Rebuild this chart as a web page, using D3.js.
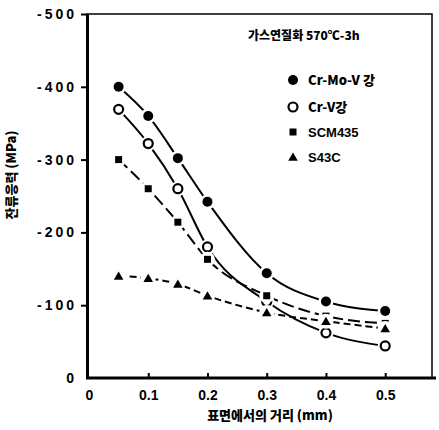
<!DOCTYPE html>
<html>
<head>
<meta charset="utf-8">
<script src="https://cdn.jsdelivr.net/npm/d3@7"></script>
<style>
  body { margin: 0; background: #fff; }
  svg { display: block; }
  text { font-family: "Liberation Sans", Arial, "Noto Sans CJK KR", sans-serif; font-weight: bold; fill: #000; }
  .kr { font-family: "Noto Sans CJK KR", sans-serif; font-weight: 900; }
</style>
</head>
<body>
<script>
// depth from surface (mm)
const depths = [0.05, 0.1, 0.15, 0.2, 0.3, 0.4, 0.5];
// residual stress (MPa)
const crMoV = [-400, -360, -302, -242, -144, -105, -92];
const crV = [-369, -322, -260, -180, -105, -62, -44];
const scm435 = [-300, -260, -214, -163, -113, -85, -75];
const s43c = [-140, -137, -129, -113, -90, -78, -68];

const seriesNames = ['Cr-Mo-V 강', 'Cr-V강', 'SCM435', 'S43C'];
const xTicks = [0, 0.1, 0.2, 0.3, 0.4, 0.5];
const yTicks = [0, -100, -200, -300, -400, -500];

const width = 439;
const height = 430;

const svg = d3.select('body').append('svg')
  .attr('width', width)
  .attr('height', height);

const x = d3.scaleLinear().domain([0, 0.579]).range([89, 432]);
const y = d3.scaleLinear().domain([0, -500]).range([378, 14]);

const series = [
  { name: seriesNames[0], values: crMoV, marker: 'dot', dash: null },
  { name: seriesNames[1], values: crV, marker: 'ring', dash: null },
  { name: seriesNames[2], values: scm435, marker: 'square', dash: '12,5' },
  { name: seriesNames[3], values: s43c, marker: 'tri', dash: '7,4' }
];

// frame
svg.append('rect')
  .attr('x', x(0) - 2)
  .attr('y', y(-500))
  .attr('width', x(0.579) - x(0) + 2)
  .attr('height', y(0) - y(-500))
  .attr('fill', 'none')
  .attr('stroke', '#000')
  .attr('stroke-width', 1.5);

// axes
const xAxis = d3.axisBottom(x)
  .tickValues(xTicks)
  .tickSizeInner(-5)
  .tickSizeOuter(0)
  .tickFormat((d) => d === 0 ? '0' : d3.format('.1f')(d));

const gx = svg.append('g')
  .attr('transform', `translate(0,${y(0)})`)
  .call(xAxis);
gx.select('.domain').attr('stroke-width', 3).attr('d', `M${x(0) - 3},0H${x(0.579) + 4}`);
gx.selectAll('.tick line').attr('stroke-width', 2);
gx.selectAll('.tick').filter((d) => d === 0).select('line').remove();
gx.selectAll('.tick text')
  .attr('y', 12)
  .attr('font-size', 14)
  .style('font-weight', 'bold');

const yAxis = d3.axisLeft(y)
  .tickValues(yTicks)
  .tickSizeInner(6)
  .tickSizeOuter(0)
  .tickPadding(4)
  .tickFormat((d) => String(d));

const gy = svg.append('g')
  .attr('transform', `translate(${x(0) - 2},0)`)
  .call(yAxis);
gy.select('.domain').attr('stroke-width', 3);
gy.selectAll('.tick line').attr('stroke-width', 2);
gy.selectAll('.tick').filter((d) => d === 0).select('line').remove();
gy.selectAll('.tick text')
  .attr('font-size', 14)
  .attr('letter-spacing', 3)
  .style('font-weight', 'bold');
gy.selectAll('text').attr('fill', '#000');
gx.selectAll('text').attr('fill', '#000');

// axis titles
svg.append('text')
  .attr('class', 'kr')
  .attr('x', 270)
  .attr('y', 420)
  .attr('text-anchor', 'middle')
  .attr('font-size', 13)
  .text('표면에서의 거리 (mm)');

svg.append('text')
  .attr('class', 'kr')
  .attr('transform', 'translate(16,175) rotate(-90)')
  .attr('text-anchor', 'middle')
  .attr('font-size', 13)
  .text('잔류응력 (MPa)');

// lines
const line = d3.line()
  .x((d) => x(d[0]))
  .y((d) => y(d[1]))
  .curve(d3.curveMonotoneX);

series.forEach((s) => {
  svg.append('path')
    .datum(depths.map((d, i) => [d, s.values[i]]))
    .attr('d', line)
    .attr('fill', 'none')
    .attr('stroke', '#000')
    .attr('stroke-width', 2)
    .attr('stroke-dasharray', s.dash);
});

function drawMarker(g, type, cx, cy, halo) {
  if (halo) {
    g.append('circle').attr('cx', cx).attr('cy', cy).attr('r', 7.5).attr('fill', '#fff');
  }
  if (type === 'dot') {
    g.append('circle').attr('cx', cx).attr('cy', cy).attr('r', 5).attr('fill', '#000');
  } else if (type === 'ring') {
    g.append('circle').attr('cx', cx).attr('cy', cy).attr('r', 4.5)
      .attr('fill', '#fff').attr('stroke', '#000').attr('stroke-width', 2.2);
  } else if (type === 'square') {
    g.append('rect').attr('x', cx - 3.5).attr('y', cy - 3.5)
      .attr('width', 7).attr('height', 7).attr('fill', '#000');
  } else {
    g.append('path')
      .attr('d', d3.symbol(d3.symbolTriangle, 40)())
      .attr('transform', `translate(${cx},${cy + 1})`)
      .attr('fill', '#000');
  }
}

// markers
series.forEach((s) => {
  const g = svg.append('g');
  depths.forEach((d, i) => drawMarker(g, s.marker, x(d), y(s.values[i]), true));
});

// legend
svg.append('text')
  .attr('class', 'kr')
  .attr('x', 248)
  .attr('y', 40)
  .attr('font-size', 12)
  .text('가스연질화 570℃-3h');

const legendY = [80, 107, 132, 157];
series.forEach((s, i) => {
  const g = svg.append('g');
  drawMarker(g, s.marker, 293, legendY[i], false);
  g.append('text')
    .attr('class', i < 2 ? 'kr' : null)
    .attr('x', 308)
    .attr('y', legendY[i] + 5)
    .attr('font-size', 13)
    .text(s.name);
});
</script>
</body>
</html>
